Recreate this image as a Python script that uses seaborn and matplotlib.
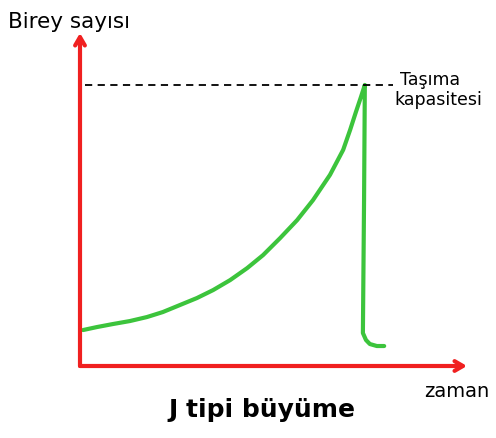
import matplotlib
matplotlib.use("Agg")
import matplotlib.pyplot as plt
import seaborn as sns
import pandas as pd

# J-shaped growth curve (time, number of individuals)
zaman = [0.08, 0.44, 0.85, 1.29, 1.73, 2.14, 2.58, 3.02, 3.44, 3.88, 4.32, 4.73,
         5.17, 5.61, 6.02, 6.46, 6.80, 6.98, 7.13, 7.26, 7.36,
         7.34, 7.31, 7.39, 7.49, 7.67, 7.86]
birey = [1.08, 1.17, 1.26, 1.35, 1.47, 1.62, 1.83, 2.04, 2.28, 2.58, 2.94, 3.33,
         3.84, 4.38, 4.98, 5.74, 6.49, 7.09, 7.63, 8.08, 8.44,
         4.98, 0.99, 0.78, 0.66, 0.60, 0.60]

tasima_kapasitesi = 8.44
dash_start, dash_end = 0.13, 8.1

labels = {
    "y": "Birey sayısı",
    "x": "zaman",
    "k1": "Taşıma",
    "k2": "kapasitesi",
    "title": "J tipi büyüme",
}

sns.set_style("white")

fig = plt.figure(figsize=(4.96, 4.38), dpi=100)
W, H = 496, 438
ax = fig.add_axes([80 / W, (H - 366) / H, (467 - 80) / W, (366 - 33) / H])
ax.set_xlim(0, 10)
ax.set_ylim(0, 10)
ax.axis("off")

df = pd.DataFrame({"zaman": zaman, "birey": birey})
sns.lineplot(data=df, x="zaman", y="birey", sort=False, ax=ax,
             color="#3cc43c", linewidth=3, solid_capstyle="round",
             solid_joinstyle="round")

# carrying capacity
ax.plot([dash_start, dash_end], [tasima_kapasitesi, tasima_kapasitesi],
        color="black", linestyle=(0, (4, 3)), linewidth=1.3, clip_on=False)

# red axes with arrow heads
arrow = dict(arrowstyle="->,head_length=0.6,head_width=0.35", color="#f02020",
             lw=3, shrinkA=0, shrinkB=0)
ax.annotate("", xy=(10, 0), xytext=(0, 0), arrowprops=arrow, annotation_clip=False)
ax.annotate("", xy=(0, 10), xytext=(0, 0), arrowprops=arrow, annotation_clip=False)

fig.text(8 / W, 1 - 28 / H, labels["y"], fontsize=15.5, color="black")
fig.text(400 / W, 1 - 85 / H, labels["k1"], fontsize=12.5, color="black")
fig.text(394 / W, 1 - 105 / H, labels["k2"], fontsize=12.5, color="black")
fig.text(424 / W, 1 - 397 / H, labels["x"], fontsize=14, color="black")
fig.text(262 / W, 1 - 410 / H, labels["title"], fontsize=18, fontweight="bold",
         ha="center", va="center", color="black")

fig.savefig("out.png", dpi=100)
